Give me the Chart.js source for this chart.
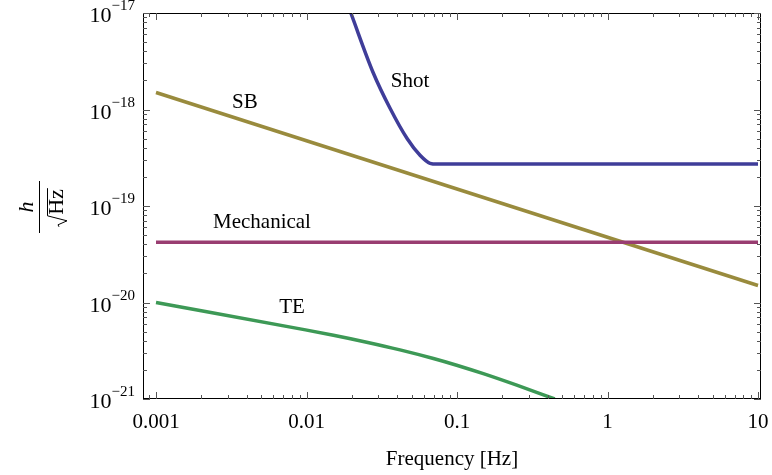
<!DOCTYPE html>
<html lang="en">
<head>
<meta charset="UTF-8">
<script src="https://cdn.jsdelivr.net/npm/chart.js"></script>
<title>Noise curves</title>
<style>
html, body { margin: 0; padding: 0; background: #fff; }
</style>
</head>
<body>
<canvas id="myChart" width="772" height="475"></canvas>
<script>
// data (frequency in Hz, amplitude in 1/sqrt(Hz))
var shotFreq = [0.0197, 0.0277, 0.0359, 0.0466, 0.0568, 0.0662, 0.0736, 10];
var shotAmp = [1.0e-17, 2.42e-18, 1.03e-18, 5.0e-19, 3.35e-19, 2.77e-19, 2.72e-19, 2.72e-19];
var mechFreq = [0.001, 10];
var mechAmp = [4.2e-20, 4.2e-20];
var sbFreq = [0.001, 10];
var sbAmp = [1.5e-18, 1.5e-20];
var teFreq = [0.001, 0.00906, 0.0151, 0.0251, 0.0418, 0.0697, 0.0995, 0.1496, 0.2495, 0.446];
var teAmp = [1.0e-20, 5.33e-21, 4.58e-21, 3.88e-21, 3.23e-21, 2.63e-21, 2.24e-21, 1.83e-21, 1.39e-21, 1.0e-21];

var xTickValues = [0.001, 0.01, 0.1, 1, 10];
var xTickLabels = ['0.001', '0.01', '0.1', '1', '10'];
var yTickValues = [1e-21, 1e-20, 1e-19, 1e-18, 1e-17];
var yTickExponents = ['\u221221', '\u221220', '\u221219', '\u221218', '\u221217'];

var curveNames = ['Shot', 'SB', 'Mechanical', 'TE'];
var curveLabelFreq = [0.0488, 0.0039, 0.00506, 0.00802];
var curveLabelAmp = [1.95e-18, 1.19e-18, 6.78e-20, 8.94e-21];

var serif = "'Liberation Serif', 'DejaVu Serif', serif";

function pts(xs, ys) {
    var out = [];
    for (var i = 0; i < xs.length; i++) out.push({ x: xs[i], y: ys[i] });
    return out;
}

// frame with inward ticks, y labels with superscripts, y title, curve names
var decorPlugin = {
    id: 'decor',
    afterDraw: function (chart) {
        var ctx = chart.ctx;
        var a = chart.chartArea;
        var xs = chart.scales.x, ys = chart.scales.y;
        ctx.save();
        ctx.strokeStyle = '#000';
        ctx.lineWidth = 1;
        ctx.strokeRect(a.left + 0.5, a.top + 0.5, a.right - a.left - 1, a.bottom - a.top - 1);

        ctx.strokeStyle = '#555';
        ctx.beginPath();
        var d, m, v, p, len;
        for (d = -4; d <= 1; d++) {
            for (m = 1; m <= 9; m++) {
                v = m * Math.pow(10, d);
                if (v < xs.min || v > xs.max) continue;
                p = Math.round(xs.getPixelForValue(v)) + 0.5;
                len = m === 1 ? 7 : 4;
                ctx.moveTo(p, a.bottom); ctx.lineTo(p, a.bottom - len);
                ctx.moveTo(p, a.top); ctx.lineTo(p, a.top + len);
            }
        }
        for (d = -21; d <= -17; d++) {
            for (m = 1; m <= 9; m++) {
                v = m * Math.pow(10, d);
                if (v < ys.min * 0.999 || v > ys.max * 1.001) continue;
                p = Math.round(ys.getPixelForValue(v)) + 0.5;
                len = m === 1 ? 7 : 4;
                ctx.moveTo(a.left, p); ctx.lineTo(a.left + len, p);
                ctx.moveTo(a.right, p); ctx.lineTo(a.right - len, p);
            }
        }
        ctx.stroke();

        // y tick labels 10^n
        ctx.fillStyle = '#000';
        ctx.textBaseline = 'alphabetic';
        for (var i = 0; i < yTickValues.length; i++) {
            var py = ys.getPixelForValue(yTickValues[i]);
            ctx.font = '15px ' + serif;
            ctx.textAlign = 'right';
            var ew = ctx.measureText(yTickExponents[i]).width;
            ctx.fillText(yTickExponents[i], 135, py - 3);
            ctx.font = '22px ' + serif;
            ctx.fillText('10', 135 - ew, py + 9);
        }

        // y title: h / sqrt(Hz), rotated
        ctx.save();
        ctx.translate(39, 207);
        ctx.rotate(-Math.PI / 2);
        ctx.strokeStyle = '#000';
        ctx.lineWidth = 1;
        ctx.beginPath();
        ctx.moveTo(-26, 0.5); ctx.lineTo(26, 0.5);
        ctx.stroke();
        ctx.textAlign = 'center';
        ctx.font = 'italic 22px ' + serif;
        ctx.fillText('h', 0, -6);
        ctx.font = '22px ' + serif;
        var hw = ctx.measureText('Hz').width;
        var hx = -hw / 2 + 5;
        ctx.textAlign = 'left';
        ctx.fillText('Hz', hx, 24);
        ctx.beginPath();
        ctx.moveTo(hx + hw + 1, 8.5);
        ctx.lineTo(hx - 1, 8.5);
        ctx.lineTo(hx - 6, 28);
        ctx.lineTo(hx - 10, 19);
        ctx.lineTo(hx - 12, 20);
        ctx.stroke();
        ctx.restore();

        // curve names
        ctx.font = '21px ' + serif;
        ctx.textAlign = 'center';
        ctx.textBaseline = 'middle';
        for (var k = 0; k < curveNames.length; k++) {
            ctx.fillText(curveNames[k], xs.getPixelForValue(curveLabelFreq[k]), ys.getPixelForValue(curveLabelAmp[k]));
        }
        ctx.restore();
    }
};

var ctx = document.getElementById('myChart').getContext('2d');
var myChart = new Chart(ctx, {
    type: 'line',
    data: {
        datasets: [
            { label: 'Shot', data: pts(shotFreq, shotAmp), borderColor: 'rgb(63,61,153)', cubicInterpolationMode: 'monotone' },
            { label: 'Mechanical', data: pts(mechFreq, mechAmp), borderColor: 'rgb(153,61,113)' },
            { label: 'SB', data: pts(sbFreq, sbAmp), borderColor: 'rgb(153,139,61)' },
            { label: 'TE', data: pts(teFreq, teAmp), borderColor: 'rgb(61,153,86)', cubicInterpolationMode: 'monotone' }
        ]
    },
    options: {
        responsive: false,
        animation: false,
        devicePixelRatio: 1,
        layout: { padding: { top: 13, right: 11, left: 0, bottom: 0 } },
        elements: { point: { radius: 0 }, line: { borderWidth: 3.5, fill: false } },
        plugins: { legend: { display: false }, tooltip: { enabled: false } },
        scales: {
            x: {
                type: 'logarithmic',
                min: Math.pow(10, -3.0864),
                max: Math.pow(10, 1.0199),
                bounds: 'data',
                grid: { display: false },
                border: { display: false },
                afterFit: function (s) { s.height = 76; },
                afterBuildTicks: function (s) {
                    s.ticks = xTickValues.map(function (v) { return { value: v }; });
                },
                ticks: {
                    autoSkip: false,
                    maxRotation: 0,
                    padding: 3,
                    color: '#000',
                    font: { family: serif, size: 21 },
                    callback: function (value, index) { return xTickLabels[index]; }
                },
                title: {
                    display: true,
                    text: 'Frequency [Hz]',
                    color: '#000',
                    font: { family: serif, size: 21 },
                    padding: { top: 0, bottom: 3 }
                }
            },
            y: {
                type: 'logarithmic',
                min: 1e-21,
                max: 1e-17,
                bounds: 'data',
                grid: { display: false },
                border: { display: false },
                ticks: { display: false },
                afterFit: function (s) { s.width = 143; }
            }
        }
    },
    plugins: [decorPlugin]
});
</script>
</body>
</html>
